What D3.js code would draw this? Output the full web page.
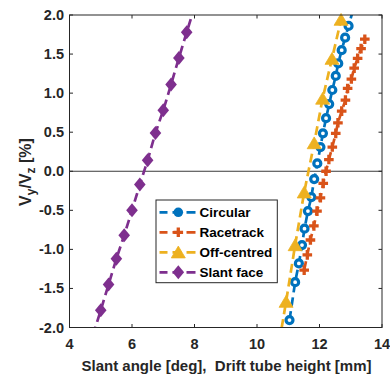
<!DOCTYPE html>
<html><head><meta charset="utf-8">
<script src="https://cdn.jsdelivr.net/npm/d3@7"></script>
<style>html,body{margin:0;padding:0;background:#fff;}svg{display:block;font-family:"Liberation Sans",Arial,sans-serif;}</style>
</head><body><svg id="c" width="390" height="378"></svg>
<script>
const xTicks = [4, 6, 8, 10, 12, 14];
const yTicks = [-2.0, -1.5, -1.0, -0.5, 0.0, 0.5, 1.0, 1.5, 2.0];
const seriesNames = ["Circular", "Racetrack", "Off-centred", "Slant face"];
const circularX = [11.04,11.22,11.34,11.44,11.52,11.63,11.74,11.83,11.93,12.03,12.11,12.21,12.31,12.41,12.52,12.60,12.71,12.82,12.93,13.05];
const circularY = [-1.905,-1.42,-1.18,-0.945,-0.735,-0.51,-0.33,-0.10,0.10,0.31,0.485,0.68,0.86,1.04,1.22,1.38,1.55,1.71,1.86,2.03];
const racetrackX = [11.51,11.61,11.71,11.82,11.92,12.03,12.12,12.21,12.30,12.41,12.52,12.59,12.71,12.83,12.90,13.02,13.11,13.22,13.33,13.45];
const racetrackY = [-1.265,-1.07,-0.88,-0.70,-0.51,-0.34,-0.155,0.0,0.15,0.31,0.485,0.62,0.77,0.91,1.06,1.18,1.32,1.445,1.57,1.69];
const offcentreX = [10.64,10.93,11.22,11.51,11.83,12.10,12.40,12.69];
const offcentreY = [-2.36,-1.67,-0.945,-0.27,0.36,0.93,1.44,1.94];
const slantX = [4.75,5.0,5.25,5.5,5.75,6.0,6.25,6.5,6.75,7.0,7.25,7.5,7.75,8.0];
const slantY = [-2.10,-1.78,-1.45,-1.12,-0.82,-0.50,-0.17,0.14,0.49,0.78,1.11,1.45,1.78,2.10];
const colors = ["#0072BD", "#D95319", "#EDB120", "#7E2F8E"];

const svg = d3.select("#c");
const L = 69.5, R = 382, T = 15, B = 327.5;
const x = d3.scaleLinear().domain([4, 14]).range([L, R]);
const y = d3.scaleLinear().domain([-2, 2]).range([B, T]);

const series = [
  {name: seriesNames[0], xs: circularX, ys: circularY, color: colors[0], marker: "circle"},
  {name: seriesNames[1], xs: racetrackX, ys: racetrackY, color: colors[1], marker: "plus"},
  {name: seriesNames[2], xs: offcentreX, ys: offcentreY, color: colors[2], marker: "triangle"},
  {name: seriesNames[3], xs: slantX, ys: slantY, color: colors[3], marker: "diamond"}
];

svg.append("defs").append("clipPath").attr("id", "clip")
  .append("rect").attr("x", L).attr("y", T).attr("width", R - L).attr("height", B - T);

// zero line
svg.append("line").attr("x1", L).attr("x2", R).attr("y1", y(0)).attr("y2", y(0))
  .attr("stroke", "#3a3a3a").attr("stroke-width", 1);

function drawMarker(g, type, color) {
  if (type === "circle") {
    g.append("circle").attr("r", 3.5).attr("fill", "#fff").attr("stroke", color).attr("stroke-width", 3.2);
  } else if (type === "plus") {
    g.append("path").attr("d", "M-4.8,0H4.8M0,-4.8V4.8").attr("stroke", color).attr("stroke-width", 3.3).attr("fill", "none");
  } else if (type === "triangle") {
    g.append("path").attr("d", "M0,-6.2L7,5.6L-7,5.6Z").attr("fill", color).attr("stroke", color).attr("stroke-width", 0.8);
  } else if (type === "diamond") {
    g.append("path").attr("d", "M0,-7L5.8,0L0,7L-5.8,0Z").attr("fill", color);
  }
}

const line = d3.line().x(d => x(d[0])).y(d => y(d[1]));
const plotG = svg.append("g");
series.forEach(s => {
  const pts = s.xs.map((v, i) => [v, s.ys[i]]);
  const g = plotG.append("g");
  g.append("path").datum(pts).attr("d", line).attr("clip-path", "url(#clip)")
    .attr("fill", "none").attr("stroke", s.color).attr("stroke-width", 2.7)
    .attr("stroke-dasharray", "9,5");
  pts.filter(p => p[1] >= -2 && p[1] <= 2 && p[0] >= 4 && p[0] <= 14).forEach(p => {
    const mg = g.append("g").attr("transform", `translate(${x(p[0])},${y(p[1])})`);
    drawMarker(mg, s.marker, s.color);
  });
});

// axes box
const axColor = "#262626";
svg.append("rect").attr("x", L).attr("y", T).attr("width", R - L).attr("height", B - T)
  .attr("fill", "none").attr("stroke", axColor).attr("stroke-width", 1);

const tl = 3.5;
const tickG = svg.append("g").attr("stroke", axColor).attr("stroke-width", 1);
xTicks.forEach(t => {
  tickG.append("line").attr("x1", x(t)).attr("x2", x(t)).attr("y1", B).attr("y2", B - tl);
  tickG.append("line").attr("x1", x(t)).attr("x2", x(t)).attr("y1", T).attr("y2", T + tl);
});
yTicks.forEach(t => {
  tickG.append("line").attr("x1", L).attr("x2", L + tl).attr("y1", y(t)).attr("y2", y(t));
  tickG.append("line").attr("x1", R).attr("x2", R - tl).attr("y1", y(t)).attr("y2", y(t));
});

const txtColor = "#262626";
svg.append("g").selectAll("text").data(xTicks).join("text")
  .attr("x", d => x(d)).attr("y", 348.5).attr("text-anchor", "middle")
  .attr("font-size", 14.5).attr("font-weight", "bold").attr("fill", txtColor).text(d => d);
svg.append("g").selectAll("text").data(yTicks).join("text")
  .attr("x", L - 5.5).attr("y", d => y(d) + 5).attr("text-anchor", "end")
  .attr("font-size", 14.5).attr("font-weight", "bold").attr("fill", txtColor).text(d => d.toFixed(1));

svg.append("text").attr("x", 226.5).attr("y", 371).attr("text-anchor", "middle")
  .attr("font-size", 15).attr("font-weight", "bold").attr("fill", txtColor)
  .attr("xml:space", "preserve").text("Slant angle [deg],  Drift tube height [mm]");

const yl = svg.append("text").attr("transform", "translate(31,172) rotate(-90)")
  .attr("text-anchor", "middle").attr("font-size", 16).attr("font-weight", "bold").attr("fill", txtColor);
yl.append("tspan").text("V");
yl.append("tspan").attr("font-size", 12).attr("dy", 4).text("y");
yl.append("tspan").attr("dy", -4).text("/V");
yl.append("tspan").attr("font-size", 12).attr("dy", 4).text("z");
yl.append("tspan").attr("dy", -4).text(" [%]");

// legend
const lg = svg.append("g");
lg.append("rect").attr("x", 156).attr("y", 200).attr("width", 121.3).attr("height", 82.7)
  .attr("fill", "#fff").attr("stroke", axColor).attr("stroke-width", 1);
series.forEach((s, i) => {
  const yy = 212.3 + i * 20;
  lg.append("line").attr("x1", 159.5).attr("x2", 197).attr("y1", yy).attr("y2", yy)
    .attr("stroke", s.color).attr("stroke-width", 2.7).attr("stroke-dasharray", "9,5")
    .attr("stroke-dashoffset", 1);
  const mg = lg.append("g").attr("transform", `translate(178.3,${yy})`);
  if (s.marker === "circle") {
    mg.append("circle").attr("r", 4.8).attr("fill", s.color);
  } else drawMarker(mg, s.marker, s.color);
  lg.append("text").attr("x", 199.5).attr("y", yy + 5).attr("font-size", 13.5).attr("font-weight", "bold")
    .attr("fill", "#000").text(s.name);
});
</script></body></html>
